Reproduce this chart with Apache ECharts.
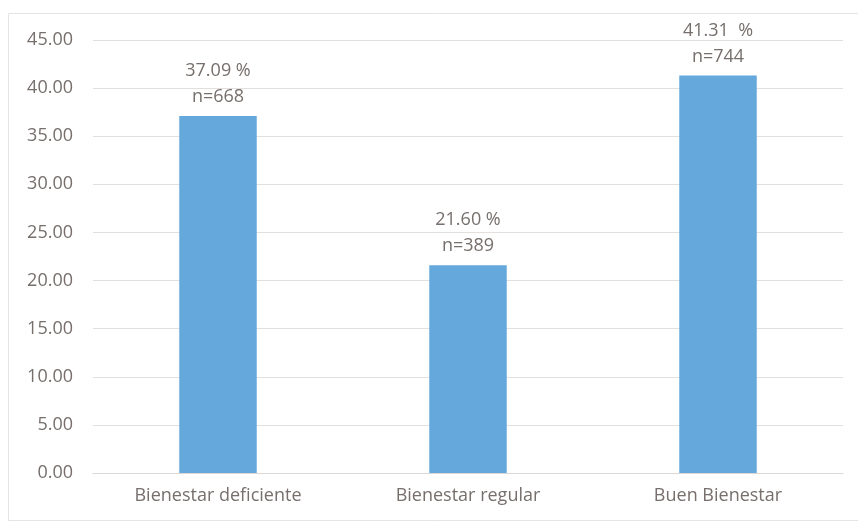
<!DOCTYPE html>
<html><head><meta charset="utf-8">
<script src="https://cdn.jsdelivr.net/npm/echarts@6/dist/echarts.min.js"></script>
<style>html,body{margin:0;padding:0;background:#fff}#c{width:858px;height:523px}</style>
</head><body><div id="c"></div>
<script>
const categories = ["Bienestar deficiente", "Bienestar regular", "Buen Bienestar"];
const percentages = [37.09, 21.60, 41.31];
const counts = [668, 389, 744];
const pctLabels = ["37.09 %", "21.60 %", "41.31  %"];

const chart = echarts.init(document.getElementById('c'), null, {renderer: 'canvas'});
const font = '"Open Sans", "Liberation Sans", sans-serif';
chart.setOption({
  animation: false,
  backgroundColor: '#fff',
  graphic: [{type: 'rect', shape: {x: 8.5, y: 13.5, width: 870, height: 507}, style: {fill: 'none', stroke: '#e6e3e1', lineWidth: 1}, silent: true}],
  grid: {left: 93, right: 15, top: 40, bottom: 50},
  xAxis: {
    type: 'category', data: categories,
    axisLine: {show: true, lineStyle: {color: '#dcd8d5'}},
    axisTick: {show: false},
    axisLabel: {color: '#766f6c', fontSize: 18, fontFamily: font, margin: 14}
  },
  yAxis: {
    type: 'value', min: 0, max: 45, interval: 5,
    axisLine: {show: false}, axisTick: {show: false},
    splitLine: {lineStyle: {color: '#e3dfdc'}},
    axisLabel: {color: '#766f6c', fontSize: 18, fontFamily: font, margin: 20, formatter: v => v.toFixed(2)}
  },
  series: [{
    type: 'bar', data: percentages, barWidth: '31%',
    itemStyle: {color: '#64a8dc'},
    label: {
      show: true, position: 'top', distance: 6,
      color: '#766f6c', fontSize: 18, fontFamily: font, lineHeight: 26,
      formatter: p => pctLabels[p.dataIndex] + '\nn=' + counts[p.dataIndex]
    }
  }]
});
</script></body></html>
